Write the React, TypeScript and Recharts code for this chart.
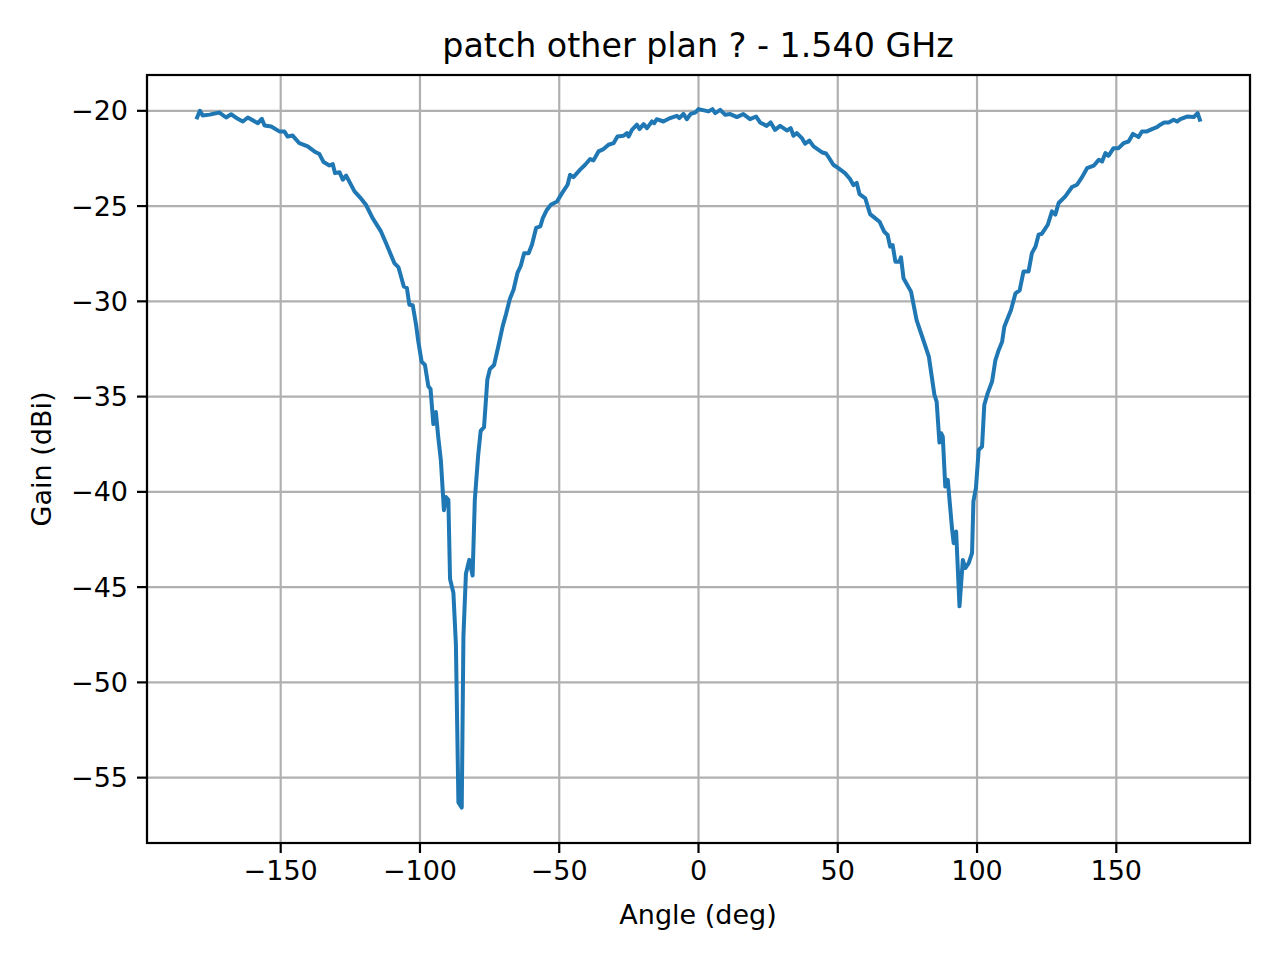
import React from 'react';
import { LineChart, Line, XAxis, YAxis, CartesianGrid } from 'recharts';

const angles: number[] = [
  -180, -179, -178, -175.5, -172, -169.6, -167.8, -165.4, -163.6, -161.8,
  -158.2, -156.8, -155.8, -153.4, -150.5, -148.7, -147.5, -145.7, -143.3, -140.3,
  -137.9, -136.1, -134.6, -132.5, -131.3, -130.5, -128.9, -127.7, -126.5, -123.5,
  -121.2, -119.4, -117, -114, -112.2, -109.2, -107.7, -105.8, -104.7, -103.8,
  -102.6, -101.4, -100.6, -99.4, -98.2, -97.0, -96.2, -95.2, -94.3, -93.4,
  -92.5, -91.4, -90.7, -89.8, -89.2, -88.0, -87.1, -86.2, -85.0, -84.4,
  -83.5, -82.3, -81.1, -80.3, -79.1, -78.2, -77.0, -75.8, -74.9, -73.4,
  -71.9, -70.3, -69.1, -67.7, -66.4, -65.0, -63.8, -62.6, -61.0, -59.8,
  -58.3, -56.8, -55.9, -54.4, -53.0, -50.8, -49.0, -47.0, -46.1, -44.9,
  -42.5, -40.7, -38.9, -37.7, -35.9, -34.1, -32.3, -30.5, -29.1, -26.9,
  -25.7, -25.1, -23.9, -22.1, -21.2, -19.7, -18.5, -16.7, -15.9, -15.0,
  -12.6, -10.2, -7.8, -6.9, -5.4, -4.2, -2.8, -1.2, 0, 3.6,
  5.0, 6.0, 7.8, 9.6, 11.4, 13.8, 16.1, 18.5, 20.7, 22.1,
  24.5, 25.9, 27.5, 29.3, 31.7, 33.1, 34.1, 35.3, 37.1, 38.3,
  39.8, 41.3, 43.1, 44.5, 45.8, 47.0, 48.4, 50.2, 52.6, 54.4,
  55.6, 56.8, 57.8, 59.9, 61.6, 63.4, 65.0, 66.7, 67.9, 68.8,
  69.7, 70.7, 72.1, 72.7, 73.6, 76.3, 78.3, 81.1, 82.7, 84.7,
  85.5, 86.5, 87.1, 87.7, 88.6, 89.5, 91.0, 91.6, 92.5, 93.7,
  94.9, 95.8, 97.0, 98.2, 98.7, 99.6, 100.6, 101.8, 102.6, 103.8,
  105.4, 106.6, 107.8, 109.0, 109.8, 111.0, 112.2, 113.8, 115.3, 116.7,
  118.5, 119.7, 121.0, 122.1, 123.3, 125.4, 126.9, 128.1, 129.3, 131.7,
  134.1, 135.9, 137.7, 139.5, 141.9, 143.7, 144.9, 146.1, 147.2, 149.0,
  150.8, 152.6, 154.4, 156.0, 158.0, 159.2, 161.0, 162.8, 164.6, 165.8,
  167.2, 168.8, 170.6, 171.8, 173.0, 175.4, 177.8, 179.2, 180,
];

const gains: number[] = [
  -20.35, -20.0, -20.25, -20.2, -20.09, -20.35, -20.18, -20.42, -20.56, -20.35,
  -20.65, -20.42, -20.77, -20.82, -21.08, -21.08, -21.35, -21.3, -21.7, -21.87,
  -22.13, -22.27, -22.69, -22.87, -22.8, -23.27, -23.22, -23.62, -23.4, -24.23,
  -24.6, -24.93, -25.63, -26.33, -26.94, -27.99, -28.22, -29.22, -29.3, -30.18,
  -30.2, -31.23, -32.11, -33.16, -33.34, -34.46, -34.6, -36.44, -35.81, -37.17,
  -38.34, -40.96, -40.27, -40.42, -44.57, -45.29, -48.0, -56.3, -56.57, -47.6,
  -44.3, -43.57, -44.39, -40.4, -38.07, -36.8, -36.6, -34.1, -33.56, -33.34,
  -32.38, -31.3, -30.67, -29.86, -29.39, -28.51, -28.13, -27.47, -27.47, -27.03,
  -26.15, -26.07, -25.63, -25.19, -24.93, -24.76, -24.32, -23.88, -23.36, -23.48,
  -23.09, -22.83, -22.53, -22.6, -22.13, -22.01, -21.78, -21.7, -21.35, -21.31,
  -21.17, -21.35, -21.0, -20.73, -20.96, -20.7, -20.91, -20.56, -20.65, -20.44,
  -20.56, -20.38, -20.26, -20.38, -20.16, -20.44, -20.16, -20.09, -19.91, -20.03,
  -19.91, -20.12, -19.95, -20.21, -20.17, -20.33, -20.17, -20.44, -20.3, -20.61,
  -20.79, -20.61, -21.0, -20.79, -21.03, -20.91, -21.31, -21.17, -21.43, -21.73,
  -21.56, -21.87, -22.05, -22.19, -22.24, -22.5, -22.83, -23.01, -23.27, -23.58,
  -23.9, -23.78, -24.37, -24.6, -25.42, -25.63, -25.82, -26.35, -26.52, -27.13,
  -27.05, -27.92, -27.92, -27.69, -28.79, -29.49, -30.98, -32.2, -32.9, -34.91,
  -35.26, -37.41, -36.92, -37.1, -39.72, -39.37, -41.9, -42.69, -42.08, -46.01,
  -43.57, -44.0, -43.74, -43.22, -40.5, -39.81, -37.8, -37.62, -35.44, -34.83,
  -34.21, -33.08, -32.55, -32.12, -31.33, -30.89, -30.45, -29.58, -29.42, -28.43,
  -28.43, -27.47, -27.12, -26.5, -26.45, -25.98, -25.28, -25.45, -24.84, -24.49,
  -24.0, -23.88, -23.48, -23.01, -22.88, -22.57, -22.66, -22.22, -22.36, -21.96,
  -21.96, -21.7, -21.61, -21.21, -21.38, -21.08, -21.08, -20.96, -20.86, -20.73,
  -20.61, -20.61, -20.47, -20.56, -20.44, -20.3, -20.33, -20.12, -20.47,
];

const xTicks = [-150, -100, -50, 0, 50, 100, 150];
const yTicks = [-55, -50, -45, -40, -35, -30, -25, -20];

const chartData = angles.map((angle, i) => ({ angle, gain: gains[i] }));

const FONT = '"DejaVu Sans", sans-serif';
const minusFmt = (v: number) => (v < 0 ? '\u2212' + Math.abs(v) : String(v));

export default function App() {
  const tickStyle = { fontSize: 27, fill: '#000', fontFamily: FONT };
  return (
    <div style={{ position: 'absolute', left: 0, top: 0, width: 1280, height: 960, background: '#fff' }}>
      <LineChart
        width={1280}
        height={960}
        data={chartData}
        margin={{ top: 75, right: 30, bottom: 0, left: 0 }}
      >
        <CartesianGrid stroke="#b0b0b0" strokeWidth={2.2} />
        <XAxis
          dataKey="angle"
          type="number"
          domain={[-198, 198]}
          ticks={xTicks}
          allowDataOverflow
          height={117}
          tickFormatter={minusFmt}
          tick={tickStyle}
          tickSize={10}
          tickMargin={8}
          axisLine={false}
          tickLine={{ stroke: '#000', strokeWidth: 2.2 }}
        />
        <YAxis
          type="number"
          domain={[-58.43, -18.12]}
          ticks={yTicks}
          allowDataOverflow
          width={147}
          tickFormatter={minusFmt}
          tick={tickStyle}
          tickSize={10}
          tickMargin={9}
          axisLine={false}
          tickLine={{ stroke: '#000', strokeWidth: 2.2 }}
        />
        <Line
          type="linear"
          dataKey="gain"
          stroke="#1f77b4"
          strokeWidth={4}
          strokeLinejoin="round"
          strokeLinecap="square"
          dot={false}
          activeDot={false}
          isAnimationActive={false}
        />
      </LineChart>
      <svg
        width={1280}
        height={960}
        style={{ position: 'absolute', left: 0, top: 0, pointerEvents: 'none' }}
      >
        <rect x={147} y={75} width={1103} height={768} fill="none" stroke="#000" strokeWidth={2.2} />
        <text x={698} y={57} textAnchor="middle" fontSize={33.3} fontFamily={FONT} fill="#000">
          patch other plan ? - 1.540 GHz
        </text>
        <text x={698} y={924} textAnchor="middle" fontSize={27} fontFamily={FONT} fill="#000">
          Angle (deg)
        </text>
        <text
          x={0}
          y={0}
          transform="translate(51, 459) rotate(-90)"
          textAnchor="middle"
          fontSize={27}
          fontFamily={FONT}
          fill="#000"
        >
          Gain (dBi)
        </text>
      </svg>
    </div>
  );
}
